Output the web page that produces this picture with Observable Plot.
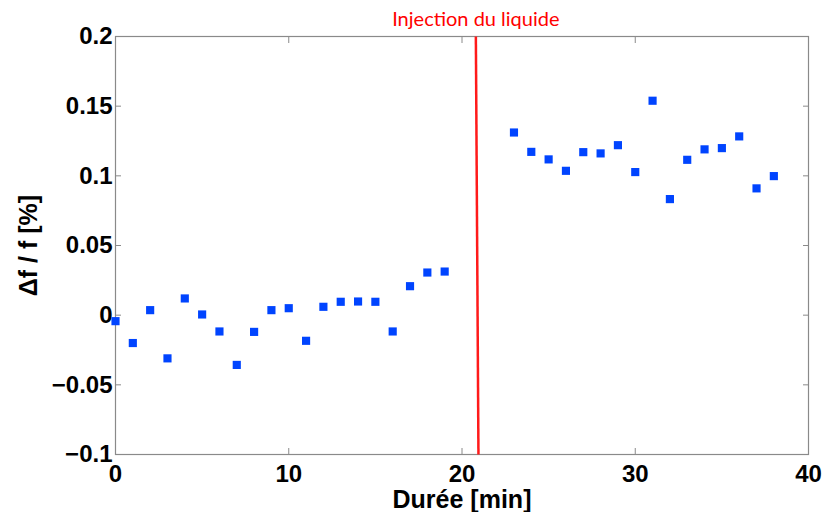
<!DOCTYPE html>
<html>
<head>
<meta charset="utf-8">
<script src="https://cdn.jsdelivr.net/npm/d3@7"></script>
<script src="https://cdn.jsdelivr.net/npm/@observablehq/plot@0.6"></script>
<style>
  html, body { margin: 0; padding: 0; background: #fff; }
  #chart svg { display: block; }
</style>
</head>
<body>
<div id="chart"></div>
<script>
// Data
const minutes = [0,1,2,3,4,5,6,7,8,9,10,11,12,13,14,15,16,17,18,19,
                 23,24,25,26,27,28,29,30,31,32,33,34,35,36,37,38];
const deltaF = [-0.0043,-0.0200,0.0036,-0.0310,0.0120,0.0005,-0.0117,-0.0357,-0.0120,0.0036,
                0.0050,-0.0184,0.0060,0.0096,0.0098,0.0096,-0.0117,0.0208,0.0306,0.0313,
                0.1311,0.1172,0.1118,0.1036,0.1170,0.1161,0.1220,0.1027,0.1539,0.0833,
                0.1115,0.1190,0.1199,0.1283,0.0910,0.0998];

const injectionX = [20.8, 20.95];   // top, bottom of the injection line
const injectionY = [0.2, -0.1];
const injectionLabel = "Injection du liquide";

const xTicks = [0, 10, 20, 30, 40];
const xTickLabels = ["0", "10", "20", "30", "40"];
const yTicks = [-0.1, -0.05, 0, 0.05, 0.1, 0.15, 0.2];
const yTickLabels = ["\u22120.1", "\u22120.05", "0", "0.05", "0.1", "0.15", "0.2"];

const xLabel = "Durée [min]";
const yLabel = "Δf / f [%]";

const points = minutes.map((m, i) => ({x: m, y: deltaF[i]}));
const injection = [{x1: injectionX[0], y1: injectionY[0], x2: injectionX[1], y2: injectionY[1]}];

const gray = "#8a8a8a";
const fontMain = "'Liberation Sans', Arial, Helvetica, sans-serif";

const chart = Plot.plot({
  width: 823,
  height: 512,
  marginLeft: 115,
  marginRight: 15,
  marginTop: 36,
  marginBottom: 58,
  style: {fontFamily: fontMain, background: "#fff", overflow: "visible"},
  x: {domain: [0, 40]},
  y: {domain: [-0.1, 0.2]},
  marks: [
    Plot.frame({stroke: gray, strokeWidth: 1.2}),
    // bottom axis with labels
    Plot.axisX({anchor: "bottom", ticks: xTicks, tickSize: -6, tickPadding: 16, stroke: gray,
      tickFormat: d => xTickLabels[xTicks.indexOf(d)],
      fontSize: 24, fontWeight: "bold", fill: "black", label: null}),
    Plot.axisX({anchor: "top", ticks: xTicks, tickSize: -6, stroke: gray, tickFormat: () => "", label: null}),
    // left axis with labels
    Plot.axisY({anchor: "left", ticks: yTicks, tickSize: -6, tickPadding: 9, stroke: gray,
      tickFormat: d => yTickLabels[yTicks.findIndex(t => Math.abs(t - d) < 1e-9)],
      fontSize: 24, fontWeight: "bold", fill: "black", label: null}),
    Plot.axisY({anchor: "right", ticks: yTicks, tickSize: -6, stroke: gray, tickFormat: () => "", label: null}),
    // axis titles
    Plot.text([xLabel], {frameAnchor: "bottom", dy: 45, text: d => d, fontSize: 25,
      fontWeight: "bold", fill: "black", lineAnchor: "middle"}),
    Plot.text([yLabel], {frameAnchor: "left", dx: -87, rotate: -90, textAnchor: "middle", text: d => d,
      fontSize: 25, fontWeight: "bold", fill: "black"}),
    // injection line + label
    Plot.link(injection, {x1: "x1", y1: "y1", x2: "x2", y2: "y2", stroke: "#ff1a1a", strokeWidth: 2.5}),
    Plot.text([injectionLabel], {x: injectionX[0], y: injectionY[0], dy: -17, text: d => d,
      fill: "#ff0000", fontSize: 20, fontFamily: "Lato, 'Open Sans', sans-serif"}),
    // data
    Plot.dot(points, {x: "x", y: "y", symbol: "square", r: 4.6, fill: "#0044ff", stroke: null})
  ]
});
document.getElementById("chart").appendChild(chart);
</script>
</body>
</html>
